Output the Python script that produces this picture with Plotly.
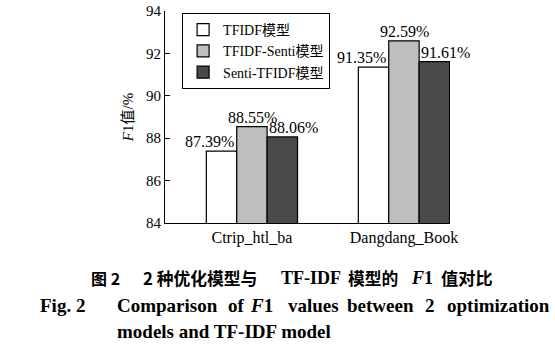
import plotly.graph_objects as go

categories = ["Ctrip_htl_ba", "Dangdang_Book"]
series_names = ["TFIDF模型", "TFIDF-Senti模型", "Senti-TFIDF模型"]
tfidf = [87.39, 91.35]
tfidf_senti = [88.55, 92.59]
senti_tfidf = [88.06, 91.61]
y_ticks = [84, 86, 88, 90, 92, 94]

colors = ["#ffffff", "#bebebe", "#4a4a4a"]
label_shift = [-42, 1, 42]  # pixel offsets of value labels per series
FONT = "Liberation Serif, Noto Sans CJK SC, serif"
CJK = "Noto Sans CJK SC, sans-serif"

fig = go.Figure()
all_series = [tfidf, tfidf_senti, senti_tfidf]
for name, vals, c in zip(series_names, all_series, colors):
    fig.add_trace(go.Bar(
        x=categories, y=vals, name=name,
        marker=dict(color=c, line=dict(color="#000000", width=1.2)),
    ))

for vals, sh in zip(all_series, label_shift):
    for cat, v in zip(categories, vals):
        fig.add_annotation(x=cat, y=v, text=f"{v:.2f}%", showarrow=False,
                           xanchor="center", yanchor="bottom", xshift=sh, yshift=-1,
                           font=dict(family=FONT, size=16, color="#000"))

fig.update_layout(
    width=555, height=354,
    margin=dict(l=165, r=105, t=11, b=131, autoexpand=False),
    paper_bgcolor="white", plot_bgcolor="white",
    barmode="group", bargap=0.4, bargroupgap=0,
    font=dict(family=FONT, size=15, color="#000"),
    showlegend=True,
    legend=dict(x=0.06, y=0.99, xanchor="left", yanchor="top",
                bordercolor="#000", borderwidth=1, bgcolor="white",
                font=dict(family=FONT, size=14), tracegroupgap=0,
                itemwidth=30),
    xaxis=dict(range=[-0.572, 1.303], showline=True, linecolor="#000", linewidth=1,
               ticks="", showgrid=False, tickfont=dict(size=16), automargin=False),
    yaxis=dict(range=[84, 94], tickvals=y_ticks, showline=True, linecolor="#000",
               linewidth=1, ticks="inside", ticklen=5, tickcolor="#000",
               showgrid=False, zeroline=False, tickfont=dict(size=15), automargin=False,
               title=dict(text="<i>F</i>1值/%", font=dict(size=15), standoff=8)),
)

# Chinese caption, placed in segments
cap_y = -0.259
segs = [
    ("<b>图 2</b>", 89, CJK, 16),
    ("<b>2 种优化模型与</b>", 141, CJK, 16.8),
    ("<b>TF-IDF</b>", 279, FONT, 18),
    ("<b>模型的</b>", 346, CJK, 16.8),
    ("<b><i>F</i>1</b>", 409, FONT, 18),
    ("<b>值对比</b>", 439, CJK, 17.2),
]
for txt, px, fam, sz in segs:
    fig.add_annotation(text=txt, xref="paper", yref="paper",
                       x=(px - 165) / 285, y=cap_y, xanchor="left", yanchor="middle",
                       showarrow=False, font=dict(family=fam, size=sz))

# English caption words
en_y1 = -0.387
en_y2 = -0.514
words = [
    ("<b>Fig. 2</b>", 38),
    ("<b>Comparison</b>", 115),
    ("<b>of</b>", 226),
    ("<b><i>F</i>1</b>", 248),
    ("<b>values</b>", 286),
    ("<b>between</b>", 345),
    ("<b>2</b>", 423),
    ("<b>optimization</b>", 445),
]
for txt, px in words:
    fig.add_annotation(text=txt, xref="paper", yref="paper",
                       x=(px - 165) / 285, y=en_y1, xanchor="left", yanchor="middle",
                       showarrow=False, font=dict(family=FONT, size=19))
fig.add_annotation(text="<b>models and TF-IDF model</b>", xref="paper", yref="paper",
                   x=(115 - 165) / 285, y=en_y2, xanchor="left", yanchor="middle",
                   showarrow=False, font=dict(family=FONT, size=19))

fig.write_html("out.html")
